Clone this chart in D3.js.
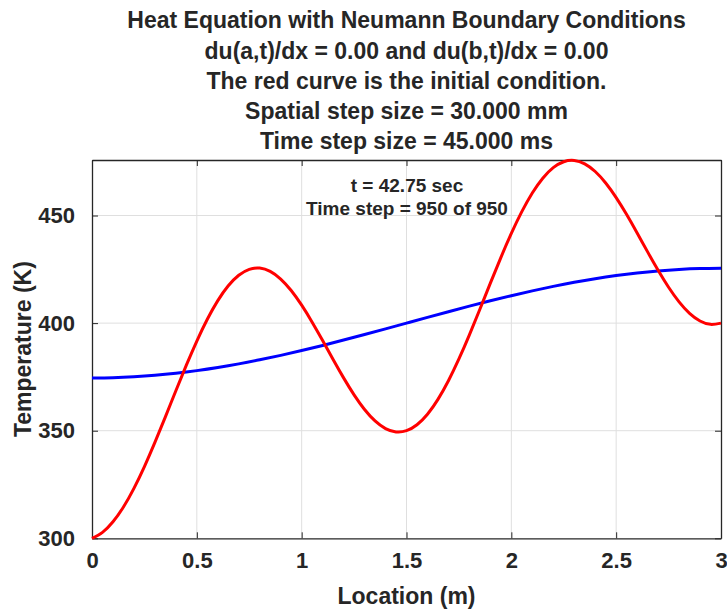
<!DOCTYPE html>
<html><head><meta charset="utf-8">
<script src="https://cdn.jsdelivr.net/npm/d3@7/dist/d3.min.js"></script>
<style>
body{margin:0;background:#fff;}
text{font-family:"Liberation Sans",Arial,Helvetica,sans-serif;font-weight:bold;fill:#262626;}
</style>
</head><body>
<svg id="chart" width="727" height="610"></svg>
<script>
const redLocations = [0,0.05,0.1,0.15,0.2,0.25,0.3,0.35,0.4,0.45,0.5,0.55,0.6,0.65,0.7,0.75,0.8,0.85,0.9,0.95,1.0,1.05,1.1,1.15,1.2,1.25,1.3,1.35,1.4,1.45,1.5,1.55,1.6,1.65,1.7,1.75,1.8,1.85,1.9,1.95,2.0,2.05,2.1,2.15,2.2,2.25,2.3,2.35,2.4,2.45,2.5,2.55,2.6,2.65,2.7,2.75,2.8,2.85,2.9,2.95,3.0];
const initialTemp = [300,302.76,307.66,314.55,323.21,333.33,344.55,356.44,368.56,380.45,391.67,401.79,410.45,417.35,422.24,425,425.58,424.01,420.45,415.13,408.33,400.45,391.9,383.1,374.55,366.67,359.87,354.55,350.99,349.42,350,352.76,357.65,364.55,373.21,383.33,394.55,406.44,418.56,430.45,441.67,451.79,460.45,467.35,472.24,475,475.58,474.01,470.45,465.13,458.33,450.45,441.9,433.1,424.55,416.67,409.87,404.55,400.99,399.42,400];
const blueLocations = [0,0.1,0.2,0.3,0.4,0.5,0.6,0.7,0.8,0.9,1.0,1.1,1.2,1.3,1.4,1.5,1.6,1.7,1.8,1.9,2.0,2.1,2.2,2.3,2.4,2.5,2.6,2.7,2.8,2.9,3.0];
const finalTemp = [374.5,374.64,375.06,375.75,376.71,377.92,379.37,381.05,382.94,385.01,387.25,389.63,392.12,394.7,397.34,400,402.66,405.3,407.88,410.37,412.75,414.99,417.06,418.95,420.63,422.08,423.29,424.25,424.94,425.36,425.5];
const xTicks = [0,0.5,1,1.5,2,2.5,3];
const yTicks = [300,350,400,450];
const xDomain = [0,3];
const yDomain = [300,475.8];
const titleLines = ["Heat Equation with Neumann Boundary Conditions","du(a,t)/dx = 0.00 and du(b,t)/dx = 0.00","The red curve is the initial condition.","Spatial step size = 30.000 mm","Time step size = 45.000 ms"];
const annotationLines = ["t = 42.75 sec","Time step = 950 of 950"];
const xLabel = "Location (m)";
const yLabel = "Temperature (K)";

const svg = d3.select("#chart");
const L = 92, R = 721, T = 160, B = 538.3;
const x = d3.scaleLinear().domain(xDomain).range([L,R]);
const y = d3.scaleLinear().domain(yDomain).range([B,T]);
const axisCol = "#262626";

// grid
const g = svg.append("g");
g.selectAll(".gx").data(xTicks.filter(d=>d>xDomain[0]&&d<xDomain[1])).enter().append("line")
  .attr("x1",d=>x(d)).attr("x2",d=>x(d)).attr("y1",T).attr("y2",B)
  .attr("stroke","#dfdfdf").attr("stroke-width",1);
g.selectAll(".gy").data(yTicks.filter(d=>d>yDomain[0])).enter().append("line")
  .attr("y1",d=>y(d)).attr("y2",d=>y(d)).attr("x1",L).attr("x2",R)
  .attr("stroke","#dfdfdf").attr("stroke-width",1);

// axes (inner ticks, mirrored)
const fmt = d=>String(d);
const xAxisB = d3.axisBottom(x).tickValues(xTicks).tickSizeInner(-6).tickSizeOuter(0).tickPadding(14).tickFormat(fmt);
const xAxisT = d3.axisTop(x).tickValues(xTicks).tickSizeInner(-6).tickSizeOuter(0).tickFormat("");
const yAxisL = d3.axisLeft(y).tickValues(yTicks).tickSizeInner(-6).tickSizeOuter(0).tickPadding(17).tickFormat(fmt);
const yAxisR = d3.axisRight(y).tickValues(yTicks).tickSizeInner(-6).tickSizeOuter(0).tickFormat("");

function styleAxis(sel){
  sel.select(".domain").attr("stroke",axisCol).attr("stroke-width",1.3);
  sel.selectAll(".tick line").attr("stroke",axisCol).attr("stroke-width",1);
  sel.selectAll(".tick text").attr("fill",axisCol).style("font-size","22px").style("font-family",'"Liberation Sans",Arial,sans-serif').style("font-weight","bold");
}
svg.append("g").attr("transform",`translate(0,${B})`).call(xAxisB).call(styleAxis);
svg.append("g").attr("transform",`translate(0,${T})`).call(xAxisT).call(styleAxis);
svg.append("g").attr("transform",`translate(${L},0)`).call(yAxisL).call(styleAxis);
svg.append("g").attr("transform",`translate(${R},0)`).call(yAxisR).call(styleAxis);

// curves
const blueLine = d3.line().x((d,i)=>x(blueLocations[i])).y(d=>y(d)).curve(d3.curveNatural);
const redLine = d3.line().x((d,i)=>x(redLocations[i])).y(d=>y(d)).curve(d3.curveNatural);
svg.append("path").datum(finalTemp).attr("d",blueLine).attr("fill","none").attr("stroke","#0000ff").attr("stroke-width",3);
svg.append("path").datum(initialTemp).attr("d",redLine).attr("fill","none").attr("stroke","#ff0000").attr("stroke-width",3);

// titles
svg.append("g").selectAll("text").data(titleLines).enter().append("text")
  .attr("x",(L+R)/2).attr("y",(d,i)=>28.3+i*30.2).attr("text-anchor","middle")
  .style("font-size","23px").text(d=>d);

// annotation
svg.append("g").selectAll("text").data(annotationLines).enter().append("text")
  .attr("x",407).attr("y",(d,i)=>191.7+i*23.3).attr("text-anchor","middle")
  .style("font-size","19px").text(d=>d);

// axis labels
svg.append("text").attr("x",(L+R)/2).attr("y",604).attr("text-anchor","middle").style("font-size","23px").text(xLabel);
svg.append("text").attr("transform",`translate(31,${(T+B)/2}) rotate(-90)`).attr("text-anchor","middle").style("font-size","23px").text(yLabel);
</script>
</body></html>
